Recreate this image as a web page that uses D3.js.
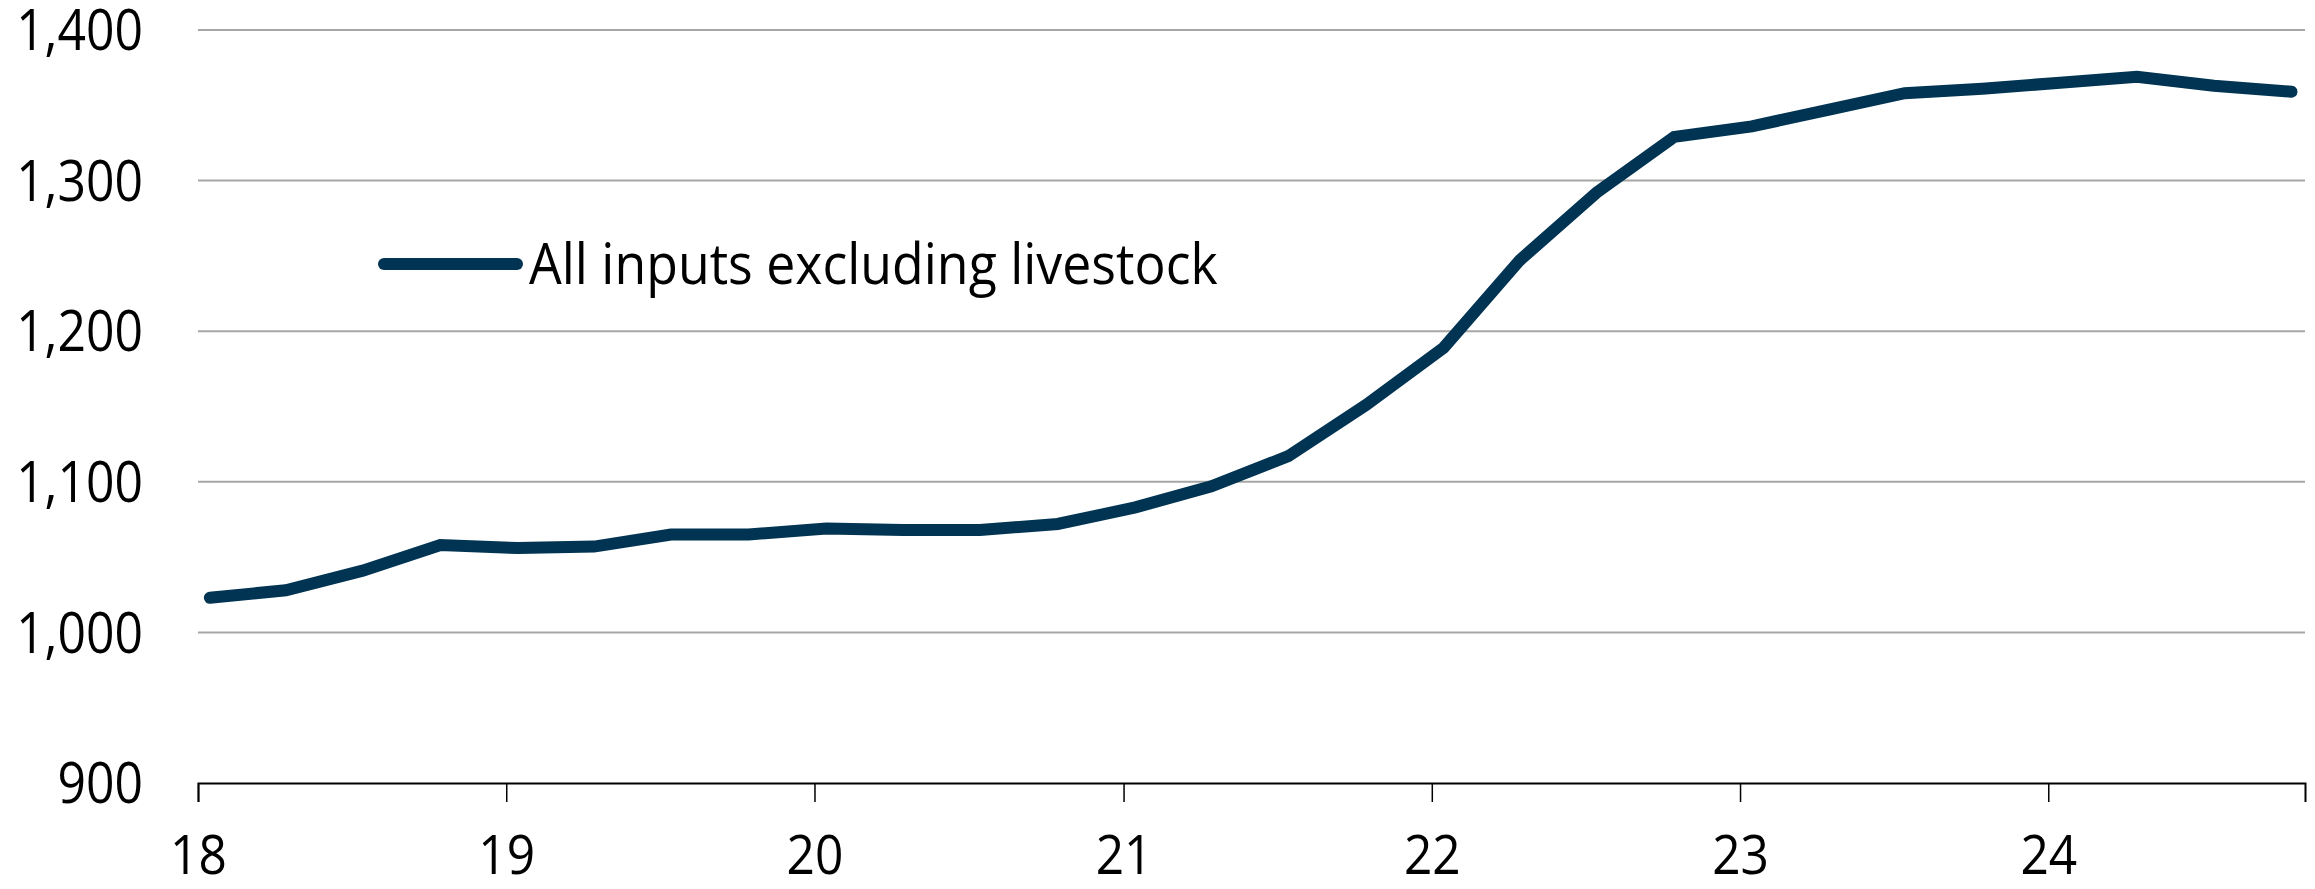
<!DOCTYPE html>
<html>
<head>
<meta charset="utf-8">
<script src="https://cdn.jsdelivr.net/npm/d3@7"></script>
<style>
  html, body { margin: 0; padding: 0; background: #fff; }
  svg text { font-family: "Open Sans", "Noto Sans", sans-serif; fill: #000; }
</style>
</head>
<body>
<div class="chart"></div>
<script>
// quarterly observations, dated mid first month of each quarter
var dates = [
    "2018-01-15", "2018-04-15", "2018-07-15", "2018-10-15",
    "2019-01-15", "2019-04-15", "2019-07-15", "2019-10-15",
    "2020-01-15", "2020-04-15", "2020-07-15", "2020-10-15",
    "2021-01-15", "2021-04-15", "2021-07-15", "2021-10-15",
    "2022-01-15", "2022-04-15", "2022-07-15", "2022-10-15",
    "2023-01-15", "2023-04-15", "2023-07-15", "2023-10-15",
    "2024-01-15", "2024-04-15", "2024-07-15", "2024-10-15"
];
var inputsExLivestock = [
    1023, 1028, 1041, 1058,
    1056, 1057, 1065, 1065,
    1069, 1068, 1068, 1072,
    1083, 1097, 1117, 1151,
    1189, 1247, 1292, 1329,
    1336, 1347, 1358, 1361,
    1365, 1369, 1363, 1359
];
var seriesName = "All inputs excluding livestock";
var yTicks = [900, 1000, 1100, 1200, 1300, 1400];
var xTickYears = [2018, 2019, 2020, 2021, 2022, 2023, 2024];

var parse = d3.timeParse("%Y-%m-%d");
var data = dates.map(function(d, i) { return {date: parse(d), value: inputsExLivestock[i]}; });

var W = 2315, H = 889;
var margin = {top: 30, right: 10, bottom: 106, left: 198},
    width = W - margin.left - margin.right,
    height = H - margin.top - margin.bottom;
var fontSize = "56px";

var x = d3.scaleTime()
    .domain([new Date(2018, 0, 1), new Date(2024, 9, 31)])
    .range([0, width]);
var y = d3.scaleLinear().domain([900, 1400]).range([height, 0]);

var svg = d3.select(".chart").append("svg")
    .attr("width", W)
    .attr("height", H)
  .append("g")
    .attr("transform", "translate(" + margin.left + "," + margin.top + ")");

// gridlines
svg.append("g")
    .selectAll("line")
    .data(yTicks.filter(function(t) { return t > 900; }))
    .enter().append("line")
    .attr("x1", 0).attr("x2", width)
    .attr("y1", function(d) { return y(d); })
    .attr("y2", function(d) { return y(d); })
    .attr("stroke", "#a6a6a6")
    .attr("stroke-width", 2);

// y labels (slightly condensed glyphs like the original)
svg.append("g")
    .selectAll("text")
    .data(yTicks)
    .enter().append("text")
    .attr("transform", function(d) { return "translate(-55," + y(d) + ") scale(0.89,1)"; })
    .attr("dy", "0.36em")
    .attr("text-anchor", "end")
    .style("font-size", fontSize)
    .text(d3.format(","));

// x axis
var xAxis = d3.axisBottom(x)
    .tickValues(xTickYears.map(function(yr) { return new Date(yr, 0, 1); }))
    .tickFormat(d3.timeFormat("%y"))
    .tickSize(19);

var gx = svg.append("g")
    .attr("class", "x axis")
    .attr("transform", "translate(0," + height + ")")
    .call(xAxis);
gx.select(".domain").attr("stroke", "#000").attr("stroke-width", 2);
gx.selectAll(".tick line").attr("stroke", "#000").attr("stroke-width", 1.5);
gx.selectAll(".tick text")
    .attr("y", 91)
    .attr("dy", 0)
    .attr("transform", "scale(0.92,1)")
    .attr("fill", "#000")
    .style("font-size", "54px");

// the series
var line = d3.line()
    .x(function(d) { return x(d.date); })
    .y(function(d) { return y(d.value); });

svg.append("path")
    .datum(data)
    .attr("d", line)
    .attr("fill", "none")
    .attr("stroke", "#003452")
    .attr("stroke-width", 12)
    .attr("stroke-linecap", "round");

// legend
var lg = svg.append("g").attr("transform", "translate(" + (384 - margin.left) + "," + (264 - margin.top) + ")");
lg.append("line")
    .attr("x1", 0).attr("x2", 133)
    .attr("stroke", "#003452")
    .attr("stroke-width", 12)
    .attr("stroke-linecap", "round");
lg.append("text")
    .attr("transform", "translate(145,0) scale(0.925,1)")
    .attr("dy", "0.36em")
    .style("font-size", fontSize)
    .text(seriesName);
</script>
</body>
</html>
